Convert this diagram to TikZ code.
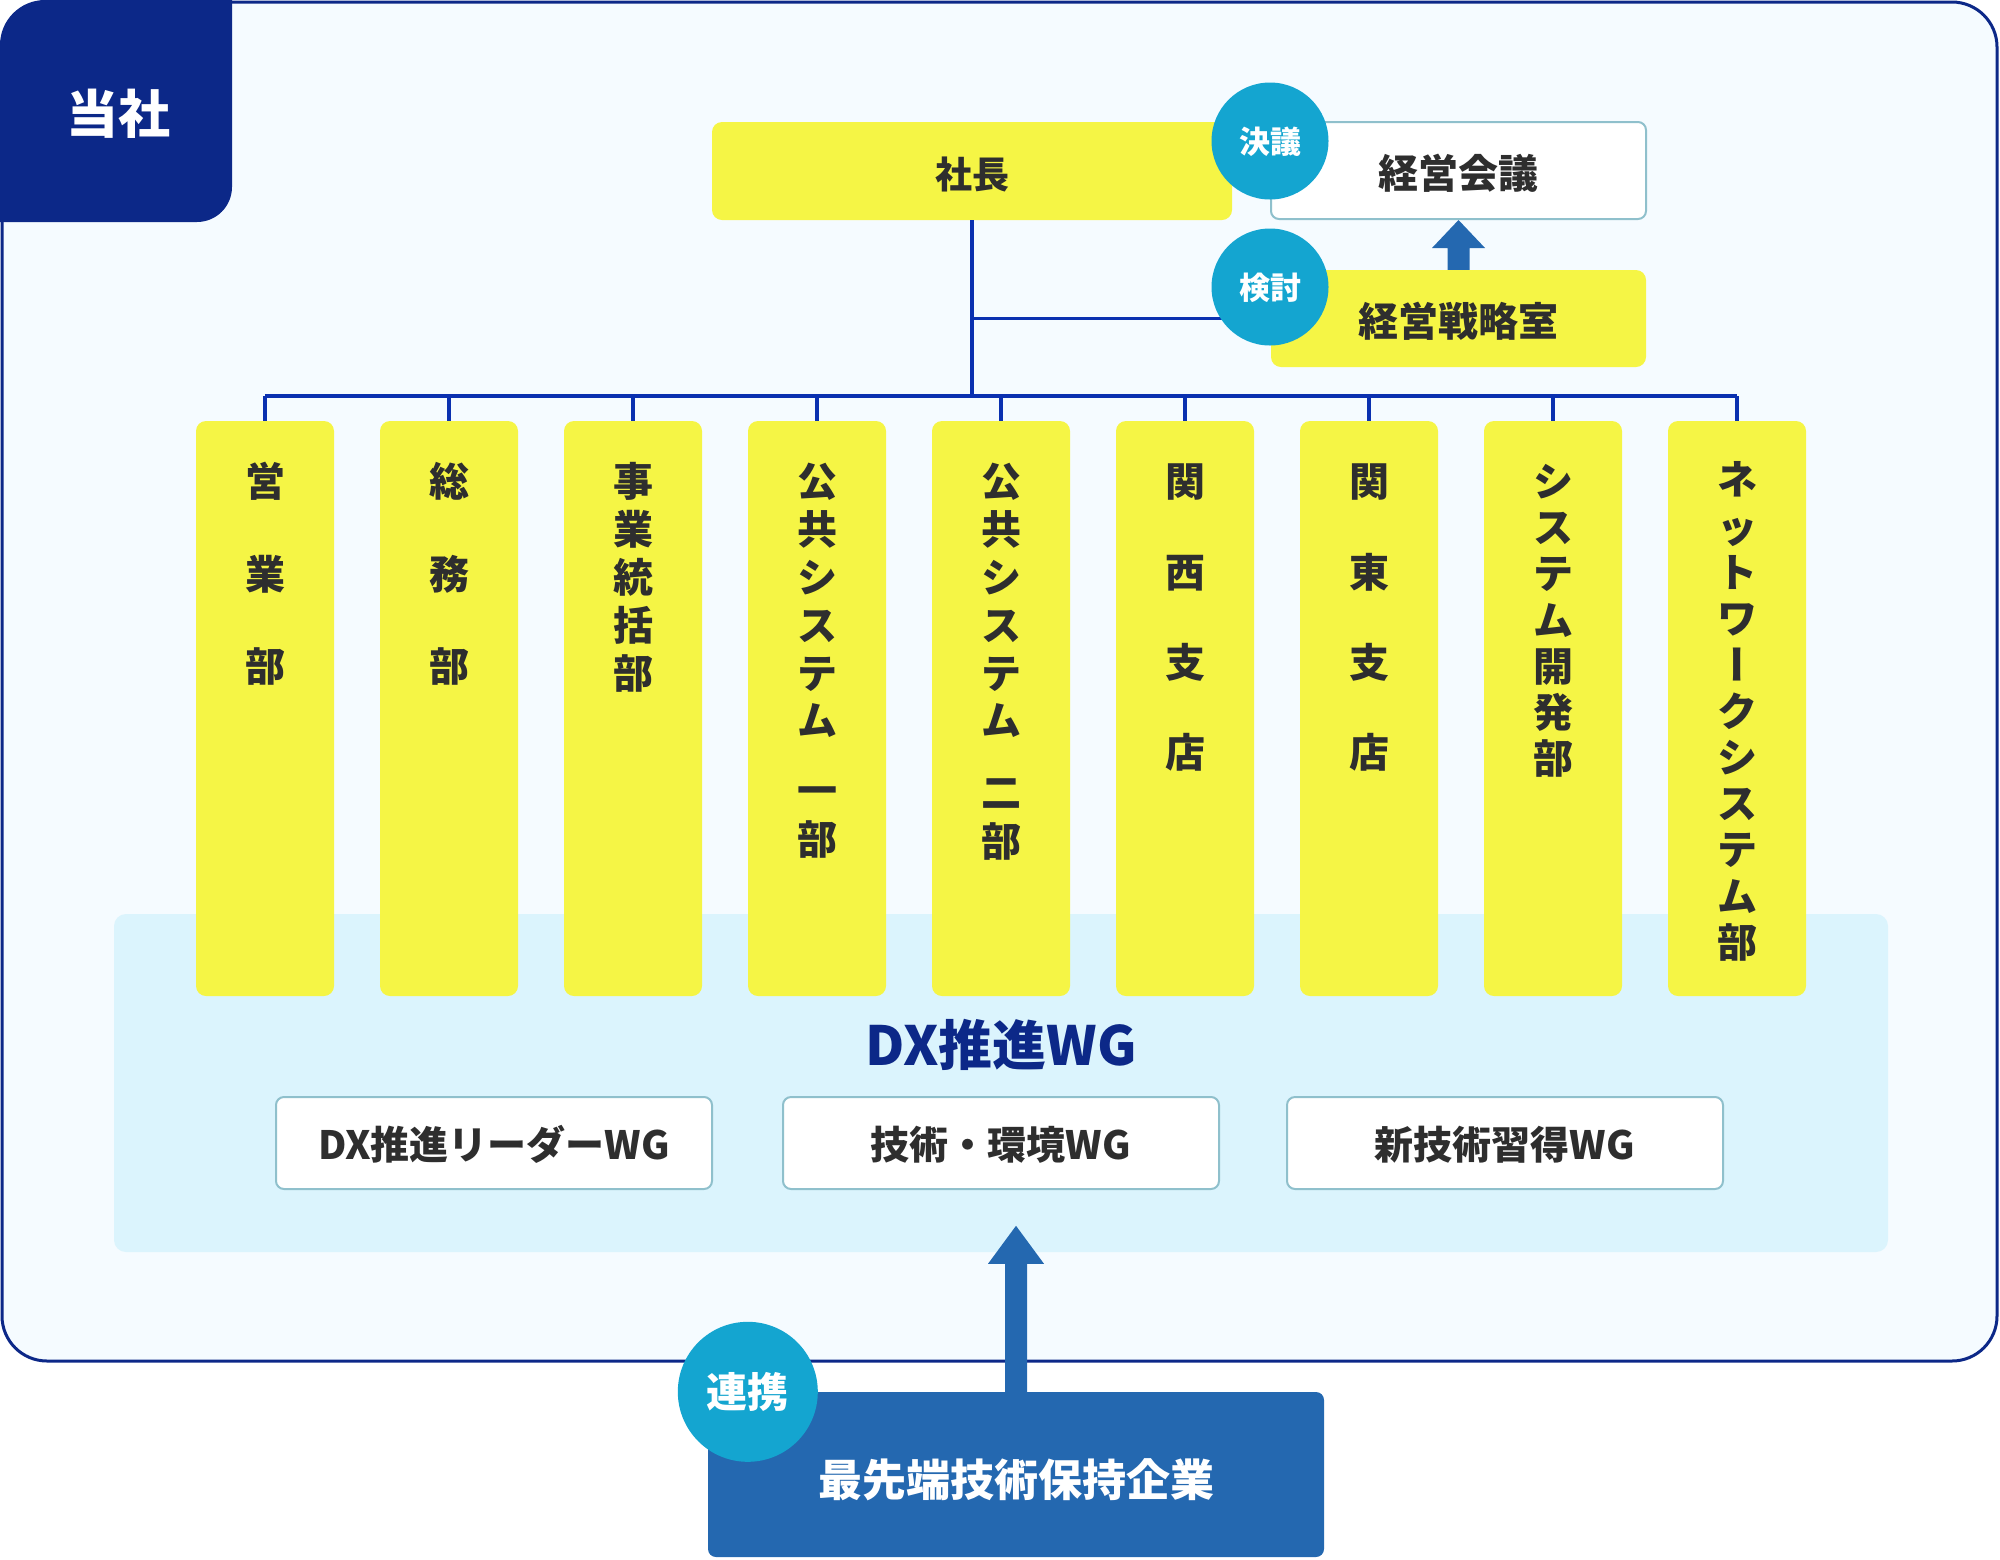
\documentclass[tikz,border=0pt]{standalone}
\usepackage{fontspec}
\newfontfamily\jp{Noto Sans CJK JP}
\usetikzlibrary{calc}
\definecolor{cnavy}{HTML}{0C2888}
\definecolor{cframe}{HTML}{F5FBFF}
\definecolor{cline}{HTML}{0A30B0}
\definecolor{cyel}{HTML}{F5F545}
\definecolor{clblue}{HTML}{DBF4FD}
\definecolor{cteal}{HTML}{14A5D0}
\definecolor{cblue}{HTML}{2468B0}
\definecolor{cedge}{HTML}{8FC0CC}
\definecolor{ctext}{HTML}{2E2E2E}
\begin{document}
\begin{tikzpicture}[x=1pt,y=-1pt,
  jt/.code={\pgfmathsetlengthmacro\jth{0.88*#1}\pgfmathsetlengthmacro\jtd{0.12*#1}%
    \tikzset{font=\jp\bfseries\fontsize{#1}{#1}\selectfont,inner sep=0pt,text height=\jth,text depth=\jtd}},
  ybox/.style={fill=cyel,rounded corners=10pt,text=ctext},
  wbox/.style={fill=white,draw=cedge,line width=2pt,rounded corners=8pt,text=ctext},
  colbox/.style={fill=cyel,rounded corners=10pt,minimum width=138pt,minimum height=575pt,inner sep=0pt},
  vch/.style={jt=40,text=ctext},
  circ/.style={circle,fill=cteal,text=white,minimum size=117pt},
  conn/.style={draw=cline,line width=3.5pt},
]
\useasboundingbox (0,0) rectangle (2000,1559);
% frame
\draw[cnavy,line width=3pt,fill=cframe,rounded corners=45pt] (2,2) rectangle (1997,1361);
% tab
\fill[cnavy] (0,222) -- (0,45) arc[start angle=180,end angle=270,radius=45] -- (232,0) -- (232,187) arc[start angle=0,end angle=90,radius=35] -- cycle;
\node[jt=52,text=white] (tousha) at (118,114) {当社};
% DX region
\node[fill=clblue,rounded corners=12pt,minimum width=1774pt,minimum height=338pt,inner sep=0pt] (dxr) at (1001,1083) {};
% columns
\foreach \i in {1,...,9} \node[colbox] (col\i) at ({265+184*(\i-1)},708.5) {};
\foreach \ch/\yy [count=\k] in {営/481,業/574,部/666} \node[vch] (ta-\k) at (col1.center |- 0,\yy) {\ch};
\foreach \ch/\yy [count=\k] in {総/481,務/574,部/666} \node[vch] (tb-\k) at (col2.center |- 0,\yy) {\ch};
\foreach \ch/\yy [count=\k] in {事/481,業/529,統/577,括/625,部/673} \node[vch] (tc-\k) at (col3.center |- 0,\yy) {\ch};
\foreach \ch/\yy [count=\k] in {公/481,共/529,シ/577,ス/625,テ/673,ム/720,一/790,部/839} \node[vch] (td-\k) at (col4.center |- 0,\yy) {\ch};
\foreach \ch/\yy [count=\k] in {公/481,共/529,シ/577,ス/625,テ/673,ム/720,二/792,部/841} \node[vch] (te-\k) at (col5.center |- 0,\yy) {\ch};
\foreach \ch/\yy [count=\k] in {関/481,西/572,支/662,店/752} \node[vch] (tf-\k) at (col6.center |- 0,\yy) {\ch};
\foreach \ch/\yy [count=\k] in {関/481,東/572,支/662,店/752} \node[vch] (tg-\k) at (col7.center |- 0,\yy) {\ch};
\foreach \ch/\yy [count=\k] in {シ/481,ス/527,テ/573,ム/620,開/666,発/712,部/758} \node[vch] (th-\k) at (col8.center |- 0,\yy) {\ch};
\foreach \ch/\yy [count=\k] in {ネ/479,ッ/527,ト/572,ワ/618,ク/711,シ/757,ス/803,テ/849,ム/896,部/942} \node[vch] (ti-\k) at (col9.center |- 0,\yy) {\ch};
\node[vch,rotate=90] (ti-bar) at (col9.center |- 0,664) {ー};
% top boxes
\node[ybox,jt=37,text height=38.6pt,minimum width=520pt,minimum height=98pt] (shacho) at (972,171) {社長};
\node[wbox,jt=40,text height=40.2pt,minimum width=375pt,minimum height=97pt] (kaigi) at (1458.5,170.5) {経営会議};
\node[ybox,jt=40,text height=40.2pt,minimum width=375pt,minimum height=97pt] (senryaku) at (1458.5,318.5) {経営戦略室};
% connectors
\coordinate (busc) at (shacho.south |- 0,396);
\draw[conn] (shacho.south) -- (busc);
\draw[conn] (shacho.south |- senryaku.west) -- (senryaku.west);
\draw[conn] (col1.north |- busc) -- (col9.north |- busc);
\foreach \i in {1,...,9} \draw[conn] (col\i.north |- busc) -- (col\i.north);
% arrow senryaku -> kaigi
\fill[cblue] ($(senryaku.north)+(-11,0)$) -- ($(kaigi.south)+(-11,28)$) -- ($(kaigi.south)+(-26.5,28)$) -- (kaigi.south) -- ($(kaigi.south)+(26.5,28)$) -- ($(kaigi.south)+(11,28)$) -- ($(senryaku.north)+(11,0)$) -- cycle;
% circles
\node[circ,jt=31,text height=29.3pt] (ketsugi) at (1270,141) {決議};
\node[circ,jt=31,text height=29.3pt] (kento) at (1270,287) {検討};
% DX WG
\node[jt=54,text=cnavy] (dxt) at (1001,1045) {DX推進WG};
\node[wbox,jt=39,text height=38.3pt,minimum width=436pt,minimum height=92pt] (wg1) at (494,1143) {DX推進リーダーWG};
\node[wbox,jt=39,text height=38.3pt,minimum width=436pt,minimum height=92pt] (wg2) at (1001,1143) {技術・環境WG};
\node[wbox,jt=39,text height=38.3pt,minimum width=436pt,minimum height=92pt] (wg3) at (1505,1143) {新技術習得WG};
% company
\node[fill=cblue,rounded corners=8pt,minimum width=616pt,minimum height=165pt,inner sep=0pt] (comp) at (1016,1474.5) {};
\node[jt=44,text=white] (compt) at (1016,1480) {最先端技術保持企業};
\coordinate (dxtip) at ($(comp.north)+(0,-166)$);
\fill[cblue] ($(comp.north)+(-11,0)$) -- ($(dxtip)+(-11,38)$) -- ($(dxtip)+(-28,38)$) -- (dxtip) -- ($(dxtip)+(28,38)$) -- ($(dxtip)+(11,38)$) -- ($(comp.north)+(11,0)$) -- cycle;
\node[circ,jt=41,minimum size=140pt] (renkei) at ($(comp.north west)+(40,0)$) {連携};
\end{tikzpicture}
\end{document}
